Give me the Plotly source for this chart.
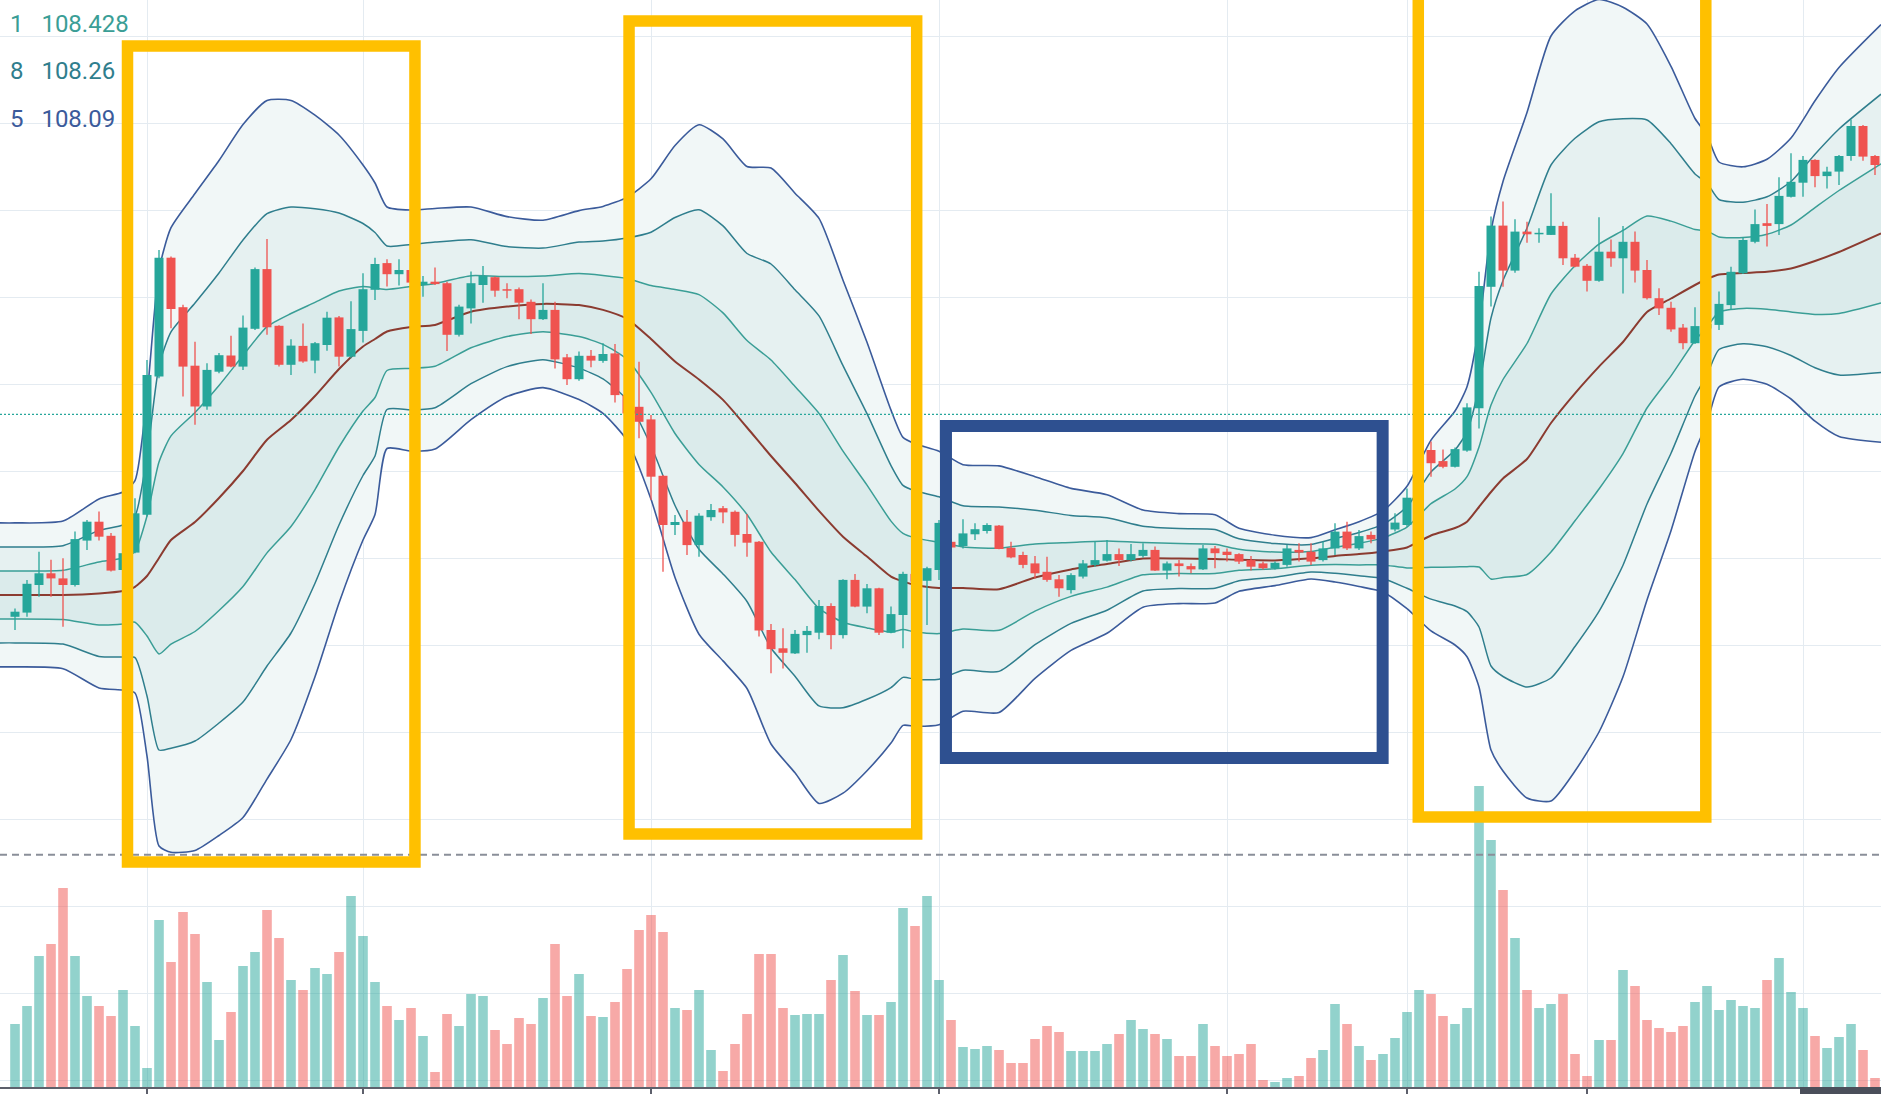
import plotly.graph_objects as go

# ---------------- data ----------------
opens = [107.944,107.958,108.050,108.089,108.072,108.050,108.198,108.261,108.214,108.100,
         108.158,108.284,108.745,109.141,108.976,108.781,108.645,108.761,108.815,108.778,
         108.904,109.103,108.914,108.784,108.847,108.798,108.850,108.942,108.811,108.897,
         109.034,109.123,109.086,109.100,109.050,109.061,109.056,108.884,108.972,109.050,
         109.076,109.036,109.036,108.994,108.936,108.967,108.809,108.736,108.814,108.797,
         108.822,108.683,108.644,108.602,108.414,108.250,108.261,108.183,108.276,108.306,
         108.294,108.220,108.194,107.900,107.839,107.822,107.883,107.891,107.980,107.883,
         108.067,107.978,108.039,107.891,107.950,108.087,108.064,108.100,108.194,108.180,
         108.219,108.230,108.248,108.174,108.150,108.122,108.094,108.069,108.033,108.078,
         108.117,108.131,108.153,108.133,108.147,108.167,108.098,108.122,108.113,108.102,
         108.172,108.161,108.153,108.133,108.122,108.106,108.117,108.167,108.161,108.133,
         108.172,108.228,108.172,108.217,108.202,108.235,108.250,108.342,108.500,108.463,
         108.444,108.498,108.639,109.044,109.248,109.098,109.228,109.219,109.217,109.247,
         109.141,109.114,109.064,109.161,109.139,109.194,109.100,109.006,108.974,108.908,
         108.856,108.905,108.917,108.983,109.089,109.194,109.256,109.253,109.344,109.391,
         109.467,109.413,109.428,109.480,109.580,109.480]
highs = [107.972,108.067,108.161,108.134,108.139,108.228,108.267,108.295,108.223,108.161,
         108.339,108.800,109.167,109.145,108.984,108.861,108.789,108.823,108.881,108.948,
         109.108,109.203,108.916,108.869,108.922,108.860,108.961,108.947,108.996,109.089,
         109.141,109.136,109.136,109.106,109.080,109.108,109.061,108.984,109.095,109.113,
         109.078,109.056,109.042,109.002,109.056,108.994,108.820,108.828,108.833,108.856,
         108.853,108.689,108.794,108.617,108.417,108.283,108.300,108.289,108.320,108.313,
         108.298,108.287,108.197,107.920,107.906,107.900,107.913,108.000,107.989,108.069,
         108.087,108.053,108.041,107.978,108.094,108.094,108.111,108.267,108.205,108.269,
         108.256,108.256,108.250,108.194,108.161,108.147,108.144,108.083,108.089,108.133,
         108.194,108.200,108.172,108.187,108.189,108.178,108.128,108.133,108.122,108.183,
         108.180,108.172,108.156,108.147,108.128,108.128,108.183,108.189,108.189,108.194,
         108.256,108.261,108.233,108.228,108.260,108.289,108.372,108.510,108.528,108.502,
         108.508,108.656,109.094,109.278,109.328,109.269,109.261,109.239,109.356,109.261,
         109.153,109.120,109.276,109.202,109.247,109.228,109.133,109.039,108.994,108.920,
         108.976,108.935,109.028,109.111,109.209,109.302,109.320,109.409,109.489,109.480,
         109.469,109.444,109.483,109.602,109.583,109.483]
lows = [107.900,107.944,108.011,108.011,107.911,108.045,108.167,108.198,108.095,108.095,
        108.156,108.278,108.739,108.906,108.678,108.584,108.634,108.756,108.776,108.767,
        108.900,108.884,108.778,108.750,108.791,108.756,108.831,108.778,108.806,108.858,
        109.000,109.045,109.048,109.054,109.011,109.050,108.830,108.878,108.922,108.991,
        109.011,109.006,108.936,108.887,108.933,108.772,108.717,108.731,108.776,108.791,
        108.658,108.611,108.539,108.333,108.094,108.217,108.150,108.144,108.264,108.256,
        108.178,108.144,107.878,107.756,107.772,107.820,107.824,107.869,107.836,107.872,
        107.976,107.956,107.883,107.889,107.839,108.039,107.917,108.067,108.160,108.172,
        108.200,108.222,108.169,108.139,108.106,108.072,108.061,108.011,108.022,108.072,
        108.111,108.128,108.113,108.128,108.142,108.097,108.069,108.078,108.089,108.100,
        108.106,108.128,108.120,108.098,108.102,108.102,108.111,108.128,108.117,108.128,
        108.150,108.167,108.167,108.189,108.190,108.228,108.244,108.330,108.411,108.439,
        108.442,108.494,108.572,108.978,109.044,109.091,109.191,109.191,109.217,109.117,
        109.109,109.028,109.061,109.111,109.022,109.058,109.002,108.950,108.894,108.836,
        108.853,108.895,108.900,108.967,109.087,109.189,109.178,109.217,109.342,109.344,
        109.376,109.372,109.383,109.464,109.464,109.417]
closes = [107.961,108.054,108.089,108.072,108.050,108.203,108.261,108.211,108.098,108.156,
          108.289,108.750,109.141,108.970,108.778,108.645,108.767,108.816,108.778,108.908,
          109.103,108.909,108.784,108.848,108.795,108.856,108.941,108.811,108.903,109.036,
          109.120,109.086,109.100,109.058,109.061,109.053,108.884,108.978,109.056,109.080,
          109.031,109.031,108.991,108.936,108.967,108.802,108.736,108.814,108.798,108.820,
          108.683,108.622,108.594,108.411,108.250,108.260,108.183,108.281,108.300,108.292,
          108.217,108.191,107.898,107.836,107.824,107.887,107.897,107.980,107.883,108.067,
          107.978,108.039,107.891,107.953,108.087,108.061,108.106,108.257,108.175,108.222,
          108.236,108.250,108.170,108.142,108.117,108.089,108.067,108.039,108.083,108.122,
          108.133,108.153,108.133,108.153,108.167,108.098,108.122,108.113,108.102,108.172,
          108.156,108.150,108.128,108.111,108.106,108.124,108.172,108.158,108.128,108.172,
          108.228,108.172,108.213,108.202,108.239,108.258,108.341,108.490,108.456,108.444,
          108.503,108.642,109.047,109.248,109.098,109.228,109.219,109.224,109.247,109.139,
          109.111,109.064,109.161,109.139,109.194,109.098,109.006,108.972,108.902,108.856,
          108.913,108.920,108.987,109.094,109.200,109.253,109.247,109.347,109.394,109.467,
          109.413,109.428,109.480,109.580,109.478,109.450]
volumes = [63,81,131,143,199,131,91,81,71,97,61,19,167,125,175,153,105,47,75,121,
           135,177,149,107,97,119,113,135,191,151,105,81,67,79,51,15,73,61,93,91,
           57,43,69,63,89,143,91,113,71,70,85,118,157,172,155,79,77,97,37,16,
           43,73,133,133,79,72,73,73,107,132,96,72,72,85,179,161,191,107,67,40,
           38,41,37,24,24,48,61,55,36,36,36,43,53,67,58,53,48,31,31,63,
           41,31,33,43,7,5,9,11,29,37,83,63,41,27,33,49,75,97,93,71,
           63,79,301,247,197,149,97,79,83,93,33,11,47,47,117,101,67,59,55,61,
           85,101,77,87,81,79,107,129,95,79,51,39,50,63,37,9]
bar_index = list(range(len(closes)))

# Bollinger bands (basis and 1, 2, 3 deviation envelopes), sampled along the bars
band_index = [-1.3,0,4,7,9,10,11,12,13,15,17,19,21,23,25,27,29,30,31,33,35,38,41,44,47,49,
              51,53,55,57,59,61,63,65,67,69,71,73,74,75,77,79,82,85,88,91,94,97,100,102,
              105,108,110,112,114,116,118,120,121,122,123,124,126,128,130,132,134,136,138,
              140,141,142,144,146,148,150,152,155.5]
basis = [108.017,108.017,108.017,108.022,108.030,108.044,108.080,108.140,108.200,108.260,
         108.340,108.430,108.534,108.600,108.680,108.770,108.845,108.870,108.895,108.910,
         108.917,108.961,108.978,108.987,108.983,108.967,108.937,108.870,108.795,108.735,
         108.667,108.575,108.480,108.390,108.297,108.211,108.145,108.078,108.062,108.050,
         108.040,108.040,108.036,108.075,108.102,108.120,108.138,108.138,108.137,108.134,
         108.132,108.139,108.147,108.153,108.162,108.175,108.215,108.240,108.261,108.310,
         108.360,108.405,108.470,108.590,108.689,108.778,108.860,108.960,109.005,109.050,
         109.070,109.085,109.090,109.094,109.105,109.130,109.160,109.222]
upper1 = [108.097,108.097,108.099,108.127,108.140,108.162,108.280,108.460,108.547,108.625,
          108.715,108.815,108.911,108.955,108.992,109.030,109.045,109.040,109.035,109.045,
          109.055,109.081,109.078,109.080,109.088,109.082,109.072,109.048,109.035,109.018,
          108.957,108.865,108.800,108.712,108.622,108.496,108.383,108.263,108.222,108.207,
          108.192,108.177,108.173,108.187,108.192,108.197,108.192,108.188,108.186,108.169,
          108.160,108.162,108.176,108.189,108.207,108.243,108.321,108.370,108.411,108.510,
          108.650,108.735,108.855,109.020,109.114,109.186,109.232,109.280,109.263,109.235,
          109.230,109.210,109.208,109.219,109.250,109.308,109.365,109.454]
upper2 = [108.177,108.177,108.181,108.232,108.250,108.280,108.480,108.780,108.894,108.990,
          109.090,109.200,109.288,109.310,109.304,109.290,109.255,109.225,109.180,109.185,
          109.193,109.201,109.178,109.173,109.193,109.197,109.207,109.226,109.275,109.301,
          109.247,109.155,109.120,109.034,108.947,108.781,108.621,108.448,108.382,108.364,
          108.344,108.314,108.310,108.299,108.282,108.274,108.246,108.238,108.235,108.204,
          108.188,108.185,108.205,108.225,108.252,108.311,108.427,108.500,108.561,108.710,
          108.940,109.065,109.240,109.450,109.539,109.594,109.604,109.600,109.521,109.420,
          109.390,109.335,109.326,109.344,109.395,109.486,109.570,109.686]
upper3 = [108.257,108.257,108.263,108.337,108.360,108.398,108.680,109.100,109.241,109.355,
          109.465,109.585,109.665,109.665,109.616,109.550,109.450,109.390,109.310,109.300,
          109.305,109.310,109.278,109.266,109.298,109.312,109.342,109.404,109.515,109.584,
          109.537,109.445,109.440,109.356,109.272,109.066,108.859,108.633,108.542,108.521,
          108.496,108.451,108.447,108.411,108.372,108.351,108.300,108.288,108.284,108.239,
          108.216,108.208,108.234,108.261,108.297,108.379,108.533,108.630,108.711,108.910,
          109.230,109.395,109.625,109.880,109.964,110.002,109.976,109.920,109.779,109.605,
          109.550,109.460,109.444,109.469,109.540,109.664,109.775,109.918]
lower1 = [107.937,107.937,107.935,107.917,107.920,107.926,107.880,107.820,107.853,107.895,
          107.965,108.045,108.157,108.245,108.368,108.510,108.630,108.675,108.765,108.772,
          108.779,108.841,108.878,108.894,108.878,108.852,108.802,108.692,108.555,108.452,
          108.377,108.285,108.160,108.068,107.972,107.926,107.907,107.893,107.902,107.893,
          107.888,107.903,107.899,107.963,108.012,108.043,108.084,108.088,108.088,108.099,
          108.104,108.116,108.118,108.117,108.117,108.107,108.109,108.110,108.111,108.110,
          108.070,108.075,108.085,108.160,108.264,108.370,108.488,108.640,108.747,108.865,
          108.910,108.960,108.972,108.969,108.960,108.952,108.955,108.990]
lower2 = [107.857,107.857,107.853,107.812,107.810,107.808,107.680,107.500,107.506,107.530,
          107.590,107.660,107.780,107.890,108.056,108.250,108.415,108.480,108.635,108.634,
          108.641,108.721,108.778,108.801,108.773,108.737,108.667,108.514,108.315,108.169,
          108.087,107.995,107.840,107.746,107.647,107.641,107.669,107.708,107.742,107.736,
          107.736,107.766,107.762,107.851,107.922,107.966,108.030,108.038,108.039,108.064,
          108.076,108.093,108.089,108.081,108.072,108.039,108.003,107.980,107.961,107.910,
          107.780,107.745,107.710,107.740,107.845,107.962,108.116,108.320,108.489,108.680,
          108.750,108.835,108.854,108.844,108.815,108.774,108.750,108.758]
lower3 = [107.777,107.777,107.771,107.707,107.700,107.690,107.480,107.180,107.159,107.165,
          107.215,107.275,107.403,107.535,107.744,107.990,108.200,108.285,108.505,108.496,
          108.503,108.601,108.678,108.708,108.668,108.622,108.532,108.336,108.075,107.886,
          107.797,107.705,107.520,107.424,107.322,107.356,107.431,107.523,107.582,107.579,
          107.584,107.629,107.625,107.739,107.832,107.889,107.976,107.988,107.990,108.029,
          108.048,108.070,108.060,108.045,108.027,107.971,107.897,107.850,107.811,107.710,
          107.500,107.430,107.340,107.330,107.430,107.560,107.744,108.000,108.231,108.495,
          108.590,108.710,108.736,108.719,108.670,108.596,108.545,108.526]

legend_prefixes = ["1", "8", "5"]
legend_values = ["108.428", "108.26", "108.09"]

# ---------------- styles ----------------
UP = "#26a69a"
DOWN = "#ef5350"
C1_LINE = "#3a9e96"
C2_LINE = "#2f7e8d"
C3_LINE = "#3b5b9b"
MID_LINE = "#8b3b30"
FILL1 = "#dbebeb"
FILL2 = "#e6f1f1"
FILL3 = "#f1f7f7"
SMOOTH = dict(shape="spline", smoothing=0.6)

fig = go.Figure()

# band fills (stacked tonexty)
fill_seq = [(upper3, None), (upper2, FILL3), (upper1, FILL2),
            (lower1, FILL1), (lower2, FILL2), (lower3, FILL3)]
for vals, fc in fill_seq:
    fig.add_trace(go.Scatter(
        x=band_index, y=vals, mode="lines",
        line=dict(width=0, color="rgba(0,0,0,0)", **SMOOTH),
        fill="tonexty" if fc else "none", fillcolor=fc, hoverinfo="skip", showlegend=False))

# band lines
for vals, col, w in [(upper3, C3_LINE, 1.6), (lower3, C3_LINE, 1.6),
                     (upper2, C2_LINE, 1.5), (lower2, C2_LINE, 1.5),
                     (upper1, C1_LINE, 1.5), (lower1, C1_LINE, 1.5),
                     (basis, MID_LINE, 2.0)]:
    fig.add_trace(go.Scatter(x=band_index, y=vals, mode="lines",
                             line=dict(color=col, width=w, **SMOOTH),
                             hoverinfo="skip", showlegend=False))

# candles: wicks and bodies drawn as line segments (so they sit above the band fills)
for is_up, col in [(True, UP), (False, DOWN)]:
    wx, wy, bx, by = [], [], [], []
    for i, o, h, l, c in zip(bar_index, opens, highs, lows, closes):
        if (c >= o) == is_up:
            wx += [i, i, None]
            wy += [l, h, None]
            lo_b, hi_b = min(o, c), max(o, c)
            if hi_b - lo_b < 0.004:
                mid_b = (hi_b + lo_b) / 2
                lo_b, hi_b = mid_b - 0.002, mid_b + 0.002
            bx += [i, i, None]
            by += [lo_b, hi_b, None]
    fig.add_trace(go.Scatter(x=wx, y=wy, mode="lines", line=dict(color=col, width=1.3),
                             hoverinfo="skip", showlegend=False))
    fig.add_trace(go.Scatter(x=bx, y=by, mode="lines", line=dict(color=col, width=9),
                             hoverinfo="skip", showlegend=False))

# volume (overlaid own scale)
vol_col = ["rgba(38,166,154,0.5)" if c >= o else "rgba(239,83,80,0.5)"
           for o, c in zip(opens, closes)]
fig.add_trace(go.Bar(x=bar_index, y=volumes, yaxis="y2", width=0.8,
                     marker=dict(color=vol_col, line=dict(width=0)),
                     hoverinfo="skip", showlegend=False))

# legend text
legend_y = [109.914, 109.757, 109.598]
legend_cols = [C1_LINE, C2_LINE, C3_LINE]
fig.add_trace(go.Scatter(x=[0.7] * 3, y=legend_y, mode="text", text=legend_prefixes,
                         textposition="middle left",
                         textfont=dict(family="Roboto", size=24, color=legend_cols),
                         hoverinfo="skip", showlegend=False, cliponaxis=False))
fig.add_trace(go.Scatter(x=[2.2] * 3, y=legend_y, mode="text", text=legend_values,
                         textposition="middle right",
                         textfont=dict(family="Roboto", size=24, color=legend_cols),
                         hoverinfo="skip", showlegend=False, cliponaxis=False))

YELLOW = "#FFC000"
BLUE = "#2E5090"
shapes = [
    dict(type="line", xref="paper", x0=0, x1=1, yref="y", y0=108.619, y1=108.619,
         line=dict(color="#26a69a", width=1.3, dash="2px,2px"), layer="above"),
    dict(type="line", xref="paper", x0=0, x1=1, yref="y", y0=107.151, y1=107.151,
         line=dict(color="#8a8f99", width=2, dash="7px,5px"), layer="above"),
    dict(type="rect", xref="x", yref="y", x0=9.375, x1=33.33, y0=107.127, y1=109.847,
         line=dict(color=YELLOW, width=11.5), fillcolor="rgba(0,0,0,0)", layer="above"),
    dict(type="rect", xref="x", yref="y", x0=51.17, x1=75.14, y0=107.22, y1=109.93,
         line=dict(color=YELLOW, width=11.5), fillcolor="rgba(0,0,0,0)", layer="above"),
    dict(type="rect", xref="x", yref="y", x0=116.94, x1=140.9, y0=107.277, y1=110.3,
         line=dict(color=YELLOW, width=11.5), fillcolor="rgba(0,0,0,0)", layer="above"),
    dict(type="rect", xref="x", yref="y", x0=77.58, x1=113.97, y0=107.473, y1=108.58,
         line=dict(color=BLUE, width=12), fillcolor="rgba(0,0,0,0)", layer="above"),
    dict(type="rect", xref="paper", yref="paper", x0=1800 / 1881, x1=1.0,
         y0=-7 / 1087, y1=0, line=dict(width=0), fillcolor="#4a4f5a", layer="above"),
]

GRID = "#e4ebf1"
fig.update_layout(
    width=1881, height=1094,
    margin=dict(l=0, r=0, t=0, b=7),
    paper_bgcolor="white", plot_bgcolor="white",
    barmode="overlay", showlegend=False,
    shapes=shapes,
    xaxis=dict(range=[-1.25, 155.5], tickmode="array",
               tickvals=[11, 29, 53, 77, 101, 116, 131, 149],
               showticklabels=False, showgrid=True, gridcolor=GRID, gridwidth=1.3,
               ticks="outside", ticklen=6, tickcolor="#5d606b", tickwidth=2,
               showline=True, linecolor="#5d606b", linewidth=2, zeroline=False,
               fixedrange=True),
    yaxis=dict(range=[106.37667, 110.0], tick0=109.877, dtick=0.29,
               showticklabels=False, showgrid=True, gridcolor=GRID, gridwidth=1.3,
               zeroline=False, ticks="", fixedrange=True),
    yaxis2=dict(range=[0, 1087], overlaying="y", showgrid=False, showticklabels=False,
                zeroline=False, ticks="", fixedrange=True),
)

fig.write_html("out.html", config={"displayModeBar": False},
               post_script="document.body.style.margin='0';document.body.style.padding='0';"
                           "document.body.style.overflow='hidden';")
